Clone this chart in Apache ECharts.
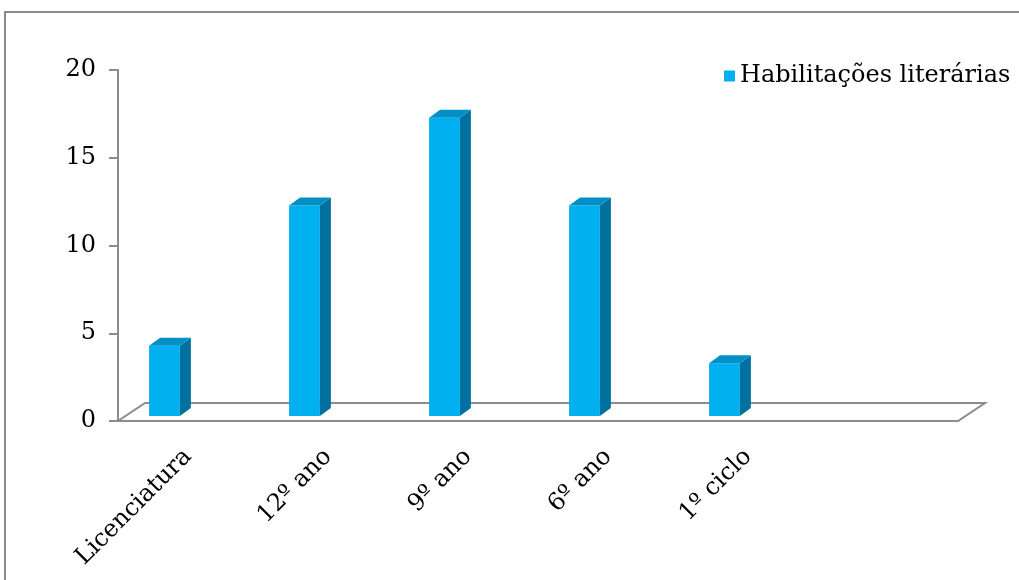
<!DOCTYPE html>
<html>
<head>
<meta charset="utf-8">
<title>Habilitações literárias</title>
<script src="https://cdn.jsdelivr.net/npm/echarts@6/dist/echarts.min.js"></script>
<style>
  html, body { margin: 0; padding: 0; background: #fff; }
  #chart { width: 1019px; height: 580px; }
</style>
</head>
<body>
<div id="chart"></div>
<script>
// dados do gráfico
const categories = ['Licenciatura', '12º ano', '9º ano', '6º ano', '1º ciclo', '']
const values = [4, 12, 17, 12, 3]
const yTicks = [0, 5, 10, 15, 20]
const seriesName = 'Habilitações literárias'

const fontName = 'DejaVu Serif'
const chart = echarts.init(document.getElementById('chart'))

// profundidade do "chão" 3D e das barras
const floorDx = 27
const floorDy = -18
const barDx = 11
const barDy = -8

const renderBar = (params, api) => {
  const base = api.coord([api.value(0), 0])
  const top = api.coord([api.value(0), api.value(1)])
  const band = api.size([1, 0])[0]
  const w = band * 0.22
  const cx = base[0] - band * 0.168
  const x0 = cx - w / 2
  const x1 = cx + w / 2
  const yb = base[1] - 5
  const yt = top[1] - 5
  return {
    type: 'group',
    children: [
      {
        type: 'rect',
        shape: { x: x0, y: yt, width: w, height: yb - yt },
        style: { fill: '#00b0f0' }
      },
      {
        type: 'polygon',
        shape: { points: [[x1, yt], [x1 + barDx, yt + barDy], [x1 + barDx, yb + barDy], [x1, yb]] },
        style: { fill: '#00719e' }
      },
      {
        type: 'polygon',
        shape: { points: [[x0, yt], [x0 + barDx, yt + barDy], [x1 + barDx, yt + barDy], [x1, yt]] },
        style: { fill: '#0090c6' }
      }
    ]
  }
}

const renderFloor = (params, api) => {
  const band = api.size([1, 0])[0]
  const first = api.coord([0, 0])
  const last = api.coord([categories.length - 1, 0])
  const L = first[0] - band / 2
  const R = last[0] + band / 2
  const y = first[1]
  return {
    type: 'polygon',
    shape: { points: [[L, y], [R, y], [R + floorDx, y + floorDy], [L + floorDx, y + floorDy]] },
    style: { fill: '#fff', stroke: '#8c8c8c', lineWidth: 2 }
  }
}

chart.setOption({
  animation: false,
  textStyle: { fontFamily: fontName },
  graphic: [
    {
      type: 'rect',
      shape: { x: 5, y: 12, width: 1200, height: 800 },
      style: { fill: 'none', stroke: '#8a8a8a', lineWidth: 2 },
      silent: true,
      z: -10
    }
  ],
  legend: {
    data: [seriesName],
    left: 719,
    top: 59,
    icon: 'rect',
    itemWidth: 11,
    itemHeight: 11,
    itemGap: 4,
    textStyle: { fontFamily: fontName, fontSize: 24, color: '#000' }
  },
  grid: {
    left: 118,
    right: 61,
    top: 70,
    bottom: 159
  },
  xAxis: {
    type: 'category',
    data: categories,
    boundaryGap: true,
    axisLine: { lineStyle: { color: '#8c8c8c', width: 2 } },
    axisTick: { length: 9, lineStyle: { color: '#8c8c8c', width: 2 } },
    axisLabel: {
      rotate: 45,
      margin: 32,
      interval: 0,
      fontSize: 24,
      color: '#000',
      fontFamily: fontName
    },
    splitLine: { show: false }
  },
  yAxis: {
    type: 'value',
    min: yTicks[0],
    max: yTicks[yTicks.length - 1],
    interval: yTicks[1] - yTicks[0],
    axisLine: { show: true, lineStyle: { color: '#8c8c8c', width: 2 } },
    axisTick: { show: true, length: 9, lineStyle: { color: '#8c8c8c', width: 2 } },
    axisLabel: {
      margin: 22,
      fontSize: 24,
      color: '#000',
      fontFamily: fontName
    },
    splitLine: { show: false }
  },
  series: [
    {
      name: 'floor',
      type: 'custom',
      renderItem: renderFloor,
      data: [[0, 0]],
      encode: { x: 0, y: 1 },
      silent: true,
      z: 1
    },
    {
      name: seriesName,
      type: 'custom',
      renderItem: renderBar,
      itemStyle: { color: '#00b0f0' },
      data: values.map((v, i) => [i, v]),
      encode: { x: 0, y: 1 },
      z: 3
    }
  ]
})
</script>
</body>
</html>
